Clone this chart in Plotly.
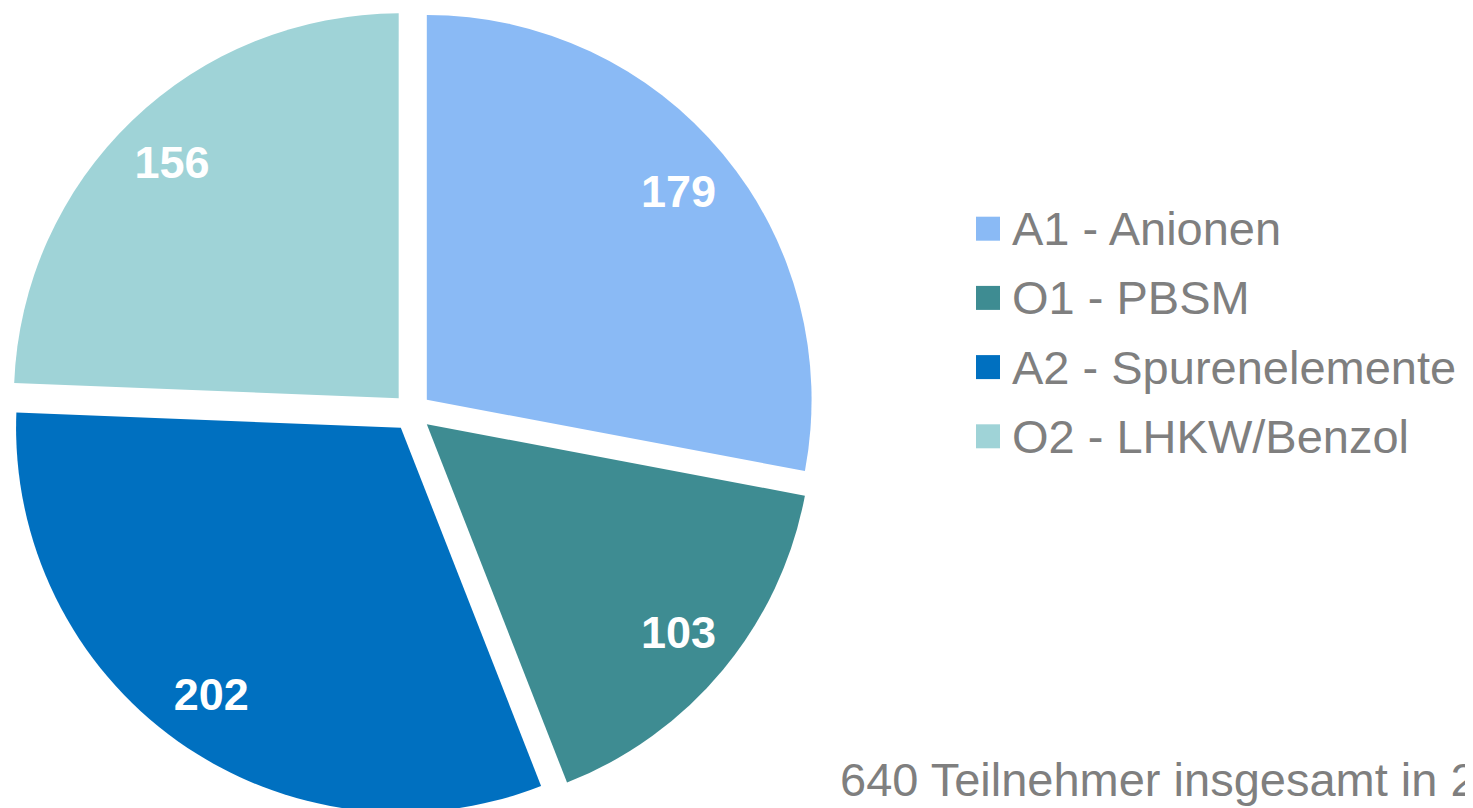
import plotly.graph_objects as go

labels = ["A1 - Anionen", "O1 - PBSM", "A2 - Spurenelemente", "O2 - LHKW/Benzol"]
values = [179, 103, 202, 156]
colors = ["#8ABAF5", "#3E8C92", "#0070C0", "#9FD3D7"]
footer = "640 Teilnehmer insgesamt in 2"

W, H = 1473, 808
FONT = "Liberation Sans, Arial"
GREY = "#7F7F7F"
pie_domain = dict(x=[0.0, 808 / W], y=[0.0, 1.0])
pull = 0.05

fig = go.Figure()
# coloured slices
fig.add_trace(go.Pie(
    labels=labels, values=values, sort=False, direction="clockwise", rotation=0,
    pull=pull, marker=dict(colors=colors, line=dict(width=0)),
    textinfo="none", domain=pie_domain, showlegend=False,
    hoverinfo="label+value",
))
# value labels, placed by the library in an outer ring of the same slices
fig.add_trace(go.Pie(
    labels=labels, values=values, sort=False, direction="clockwise", rotation=0,
    pull=pull, hole=0.7,
    marker=dict(colors=["rgba(0,0,0,0)"] * len(values), line=dict(width=0)),
    texttemplate="<b>%{value}</b>", textposition="inside",
    insidetextorientation="horizontal",
    textfont=dict(family=FONT, size=45, color="white"),
    domain=pie_domain, showlegend=False, hoverinfo="skip",
))

# legend (square swatches + labels)
sq = 24
x0 = 968
y_first = 220.7
step = 69.2
for i, (lab, col) in enumerate(zip(labels, colors)):
    yc = y_first + i * step
    fig.add_shape(
        type="rect", xref="paper", yref="paper",
        x0=x0 / W, x1=(x0 + sq) / W,
        y0=1 - (yc + sq / 2) / H, y1=1 - (yc - sq / 2) / H,
        fillcolor=col, line=dict(width=0),
    )
    fig.add_annotation(
        text=lab, xref="paper", yref="paper", x=(x0 + 34) / W, y=1 - yc / H,
        xanchor="left", yanchor="middle", showarrow=False,
        font=dict(family=FONT, size=47, color=GREY),
    )

fig.add_annotation(
    text=footer, xref="paper", yref="paper", x=830 / W, y=1 - 771 / H,
    xanchor="left", yanchor="middle", showarrow=False,
    font=dict(family=FONT, size=47, color=GREY),
)

fig.update_layout(
    width=W, height=H,
    margin=dict(l=0, r=0, t=0, b=0),
    paper_bgcolor="white", plot_bgcolor="white",
)

fig.write_html("out.html")
